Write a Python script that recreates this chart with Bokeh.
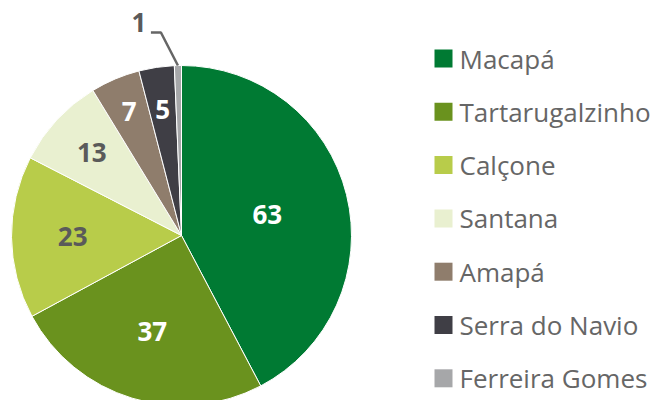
import math
from bokeh.plotting import figure
from bokeh.models import Range1d, ColumnDataSource
from bokeh.core.properties import value
from bokeh.embed import file_html
from bokeh.resources import INLINE

categories = ["Macapá", "Tartarugalzinho", "Calçone", "Santana", "Amapá", "Serra do Navio", "Ferreira Gomes"]
values = [63, 37, 23, 13, 7, 5, 1]
colors = ["#007a33", "#6a921e", "#b8cc4a", "#e9f0d0", "#8f7d6c", "#3f3e45", "#a6a7a9"]
label_colors = ["white", "white", "#5a5a5a", "#5a5a5a", "white", "white", "#5a5a5a"]
# label distance from centre, as a fraction of the radius (style / layout)
label_radius = [0.52, 0.59, 0.64, 0.72, 0.79, 0.75, None]

W, H = 658, 400
cx, cy, R = 181, 165, 170
FONT = "Open Sans"

total = float(sum(values))
starts, ends, mids = [], [], []
acc = 0.0
for v in values:
    a0 = math.pi / 2 - 2 * math.pi * acc / total
    acc += v
    a1 = math.pi / 2 - 2 * math.pi * acc / total
    starts.append(a0)
    ends.append(a1)
    mids.append((a0 + a1) / 2)

p = figure(width=W, height=H, output_backend="svg", toolbar_location=None,
           x_range=Range1d(0, W), y_range=Range1d(0, H), min_border=0)
p.axis.visible = False
p.grid.visible = False
p.outline_line_color = None
p.background_fill_color = "white"
p.border_fill_color = "white"

src = ColumnDataSource(dict(start=starts, end=ends, color=colors))
p.wedge(x=cx, y=cy, radius=R, start_angle="start", end_angle="end", direction="clock",
        fill_color="color", line_color="white", line_width=1, source=src)

# in-slice labels
lx, ly, lt, lc = [], [], [], []
for i, v in enumerate(values):
    if label_radius[i] is None:
        continue
    r = label_radius[i] * R
    lx.append(cx + r * math.cos(mids[i]))
    ly.append(cy + r * math.sin(mids[i]))
    lt.append(str(v))
    lc.append(label_colors[i])
p.text(x=lx, y=ly, text=lt, text_color=lc, text_font=value(FONT), text_font_style="bold",
       text_font_size="26px", text_align="center", text_baseline="middle")

# leader label for the smallest slice
i = len(values) - 1
ex = cx + R * math.cos(mids[i])
ey = cy + R * math.sin(mids[i])
p.line(x=[ex - 27, ex - 17, ex], y=[ey + 33, ey + 33, ey], line_color="#666666", line_width=2.5)
p.text(x=[ex - 39], y=[ey + 43], text=[str(values[i])], text_color=label_colors[i],
       text_font=value(FONT), text_font_style="bold", text_font_size="26px",
       text_align="center", text_baseline="middle")

# legend
leg_x = 443
leg_top = 342
step = 53.3
ys = [leg_top - k * step for k in range(len(categories))]
p.rect(x=[leg_x] * len(categories), y=ys, width=18, height=18, fill_color=colors, line_color=None)
p.text(x=[leg_x + 16] * len(categories), y=ys, text=categories, text_color="#666666",
       text_font=value(FONT), text_font_size="26px", text_align="left", text_baseline="middle")

open("out.html", "w").write(file_html(p, INLINE))
